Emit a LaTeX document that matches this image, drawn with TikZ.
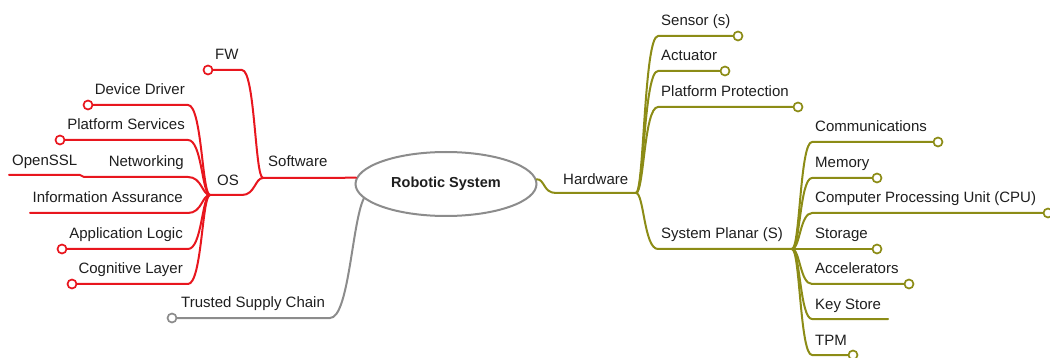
\documentclass[tikz,border=0pt]{standalone}
\usepackage{fontspec}
\setmainfont{Liberation Sans}
\usetikzlibrary{shapes.geometric}
\definecolor{swred}{RGB}{232,22,30}
\definecolor{hwolive}{RGB}{140,140,22}
\definecolor{chaingray}{RGB}{140,140,140}
\definecolor{txt}{RGB}{30,30,30}
\begin{document}
\begin{tikzpicture}[x=1pt,y=-1pt,
  branch/.style={line width=2pt, line cap=round, line join=round},
  rbr/.style={branch, draw=swred},
  obr/.style={branch, draw=hwolive},
  gbr/.style={branch, draw=chaingray},
  tip/.style={circle, fill=white, line width=1.7pt, minimum size=9pt, inner sep=0pt},
  rtip/.style={tip, draw=swred},
  otip/.style={tip, draw=hwolive},
  gtip/.style={tip, draw=chaingray},
  lbl/.style={inner sep=0pt, text=txt, font=\fontsize{15}{18}\selectfont},
  lblL/.style={lbl, anchor=base east},
  lblR/.style={lbl, anchor=base west},
]
\useasboundingbox (0,0) rectangle (1050,358);

% central topic
\node[ellipse, draw=chaingray, line width=2pt, fill=white,
      minimum width=181pt, minimum height=64pt, inner sep=0pt,
      font=\bfseries\fontsize{14.5}{17}\selectfont, text=txt]
      (root) at (446,184) {Robotic System};

% ---------------- Software (red) ----------------
\coordinate (sw) at (263,178);
\coordinate (os) at (210,195);
\node[rtip] (fw) at (208,70) {};
\node[rtip] (dd) at (88,105) {};
\node[rtip] (ps) at (60,140) {};
\coordinate (ossl) at (9,175);
\coordinate (ia) at (30,213);
\node[rtip] (al) at (62,249) {};
\node[rtip] (cl) at (72,284) {};

\draw[rbr] (root.176) -- (sw);
\draw[rbr] (sw) .. controls (255,178) and (255,70) .. (242,70) -- (fw);
\draw[rbr] (sw) .. controls (255,178) and (255,195) .. (242,195) -- (os);
\draw[rbr] (os) .. controls (202,195) and (202,105) .. (188,105) -- (dd);
\draw[rbr] (os) .. controls (202,195) and (202,140) .. (188,140) -- (ps);
\draw[rbr] (os) .. controls (202,195) and (202,177) .. (188,177) -- (84,177) -- (80,175) -- (ossl);
\draw[rbr] (os) .. controls (202,195) and (202,213) .. (188,213) -- (ia);
\draw[rbr] (os) .. controls (202,195) and (202,249) .. (188,249) -- (al);
\draw[rbr] (os) .. controls (202,195) and (202,284) .. (188,284) -- (cl);

\node[lblR] (fwl) at (215,60) {FW};
\node[lblR] (swl) at (268,167) {Software};
\node[lblR] (osl) at (217,186) {OS};
\node[lblL] (ddl) at (185,95) {Device Driver};
\node[lblL] (psl) at (185,130) {Platform Services};
\node[lblL] (netl) at (184,167) {Networking};
\node[lblR] (ossll) at (12,166) {OpenSSL};
\node[lblL] (ial) at (183,203) {Information Assurance};
\node[lblL] (all) at (183,239) {Application Logic};
\node[lblL] (cll) at (183,274) {Cognitive Layer};

% ---------------- Trusted Supply Chain (gray) ----------------
\node[gtip] (tsc) at (172,318) {};
\draw[gbr] (root.190) .. controls (352,222) and (349,318) .. (330,318) -- (tsc);
\node[lblR] (tscl) at (181,308) {Trusted Supply Chain};

% ---------------- Hardware (olive) ----------------
\coordinate (hw) at (636,193);
\coordinate (sp) at (792,249);
\node[otip] (sen) at (738,36) {};
\node[otip] (act) at (725,71) {};
\node[otip] (pp) at (798,107) {};
\node[otip] (comm) at (938,142) {};
\node[otip] (mem) at (877,178) {};
\node[otip] (cpu) at (1048,213) {};
\node[otip] (sto) at (877,249) {};
\node[otip] (acc) at (909,284) {};
\coordinate (ks) at (888,319);
\node[otip] (tpm) at (853,355) {};

\draw[obr] (root.3) .. controls (545,179) and (543,193) .. (556,193) -- (hw);
\draw[obr] (hw) .. controls (644,193) and (644,36) .. (658,36) -- (sen);
\draw[obr] (hw) .. controls (644,193) and (644,71) .. (658,71) -- (act);
\draw[obr] (hw) .. controls (644,193) and (644,107) .. (658,107) -- (pp);
\draw[obr] (hw) .. controls (644,193) and (644,249) .. (658,249) -- (sp);

\draw[obr] (sp) .. controls (800,249) and (800,142) .. (812,142) -- (comm);
\draw[obr] (sp) .. controls (800,249) and (800,178) .. (812,178) -- (mem);
\draw[obr] (sp) .. controls (800,249) and (800,213) .. (812,213) -- (cpu);
\draw[obr] (sp) -- (sto);
\draw[obr] (sp) .. controls (800,249) and (800,284) .. (812,284) -- (acc);
\draw[obr] (sp) .. controls (800,249) and (800,319) .. (812,319) -- (ks);
\draw[obr] (sp) .. controls (800,249) and (800,355) .. (812,355) -- (tpm);

\node[lblR] (hwl) at (563,185) {Hardware};
\node[lblR] (senl) at (661,26) {Sensor (s)};
\node[lblR] (actl) at (661,61) {Actuator};
\node[lblR] (ppl) at (661,97) {Platform Protection};
\node[lblR] (spl) at (661,239) {System Planar (S)};
\node[lblR] (comml) at (815,132) {Communications};
\node[lblR] (meml) at (815,168) {Memory};
\node[lblR] (cpul) at (815,203) {Computer Processing Unit (CPU)};
\node[lblR] (stol) at (815,239) {Storage};
\node[lblR] (accl) at (815,274) {Accelerators};
\node[lblR] (ksl) at (815,309) {Key Store};
\node[lblR] (tpml) at (815,345) {TPM};
\end{tikzpicture}
\end{document}
